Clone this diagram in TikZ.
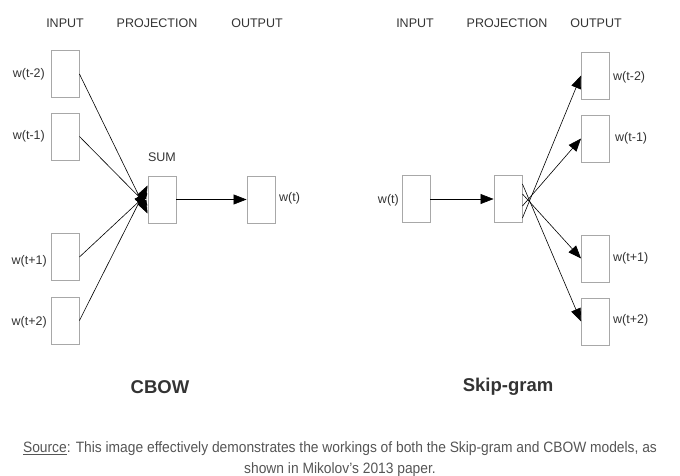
\documentclass[tikz,border=0pt]{standalone}
\usepackage{fontspec}
\setmainfont{Liberation Sans}
\newfontfamily\capfont[FakeStretch=0.92]{Liberation Sans}
\usetikzlibrary{arrows.meta}
\definecolor{boxgray}{HTML}{A8A8A8}
\definecolor{txt}{HTML}{333333}
\definecolor{captxt}{HTML}{555555}
\tikzset{
  wbox/.style={draw=boxgray,line width=0.9pt,minimum width=28pt,minimum height=47pt,inner sep=0pt},
  hdr/.style={font=\fontsize{12.5}{14}\selectfont,text=txt,inner sep=0pt},
  wlab/.style={font=\fontsize{12.5}{14}\selectfont,text=txt,inner sep=0pt},
  ttl/.style={font=\fontsize{18.5}{20}\selectfont\bfseries,text=txt,inner sep=0pt},
  arr/.style={-{Triangle[length=13pt,width=10pt]},line width=0.6pt,black},
  captext/.style={font=\capfont\fontsize{15}{20}\selectfont,text=captxt,inner sep=0pt,anchor=base},
}
\begin{document}
\begin{tikzpicture}[x=1pt,y=-1pt]
\useasboundingbox (0,0) rectangle (680,476);
% CBOW headers
\node[hdr] (hi1) at (65,23) {INPUT};
\node[hdr] (hp1) at (157,23) {PROJECTION};
\node[hdr] (ho1) at (257,23) {OUTPUT};
% CBOW boxes
\node[wbox] (c1) at (65,74) {};
\node[wbox] (c2) at (65,136.5) {};
\node[wbox] (c3) at (65,257) {};
\node[wbox] (c4) at (65,320.5) {};
\node[wbox] (sum) at (162,199.5) {};
\node[wbox] (cout) at (261,199.5) {};
\node[wlab,anchor=east] (lc1) at (45,74) {w(t-2)};
\node[wlab,anchor=east] (lc2) at (45,136.5) {w(t-1)};
\node[wlab,anchor=east] (lc3) at (47,261) {w(t+1)};
\node[wlab,anchor=east] (lc4) at (47,322) {w(t+2)};
\node[wlab] (lsum) at (162,157) {SUM};
\node[wlab,anchor=west] (lcout) at (279,198) {w(t)};
\draw[arr] (c1.east) -- ([yshift=-14pt]sum.west);
\draw[arr] (c2.east) -- ([yshift=-6pt]sum.west);
\draw[arr] (c3.east) -- ([yshift=6pt]sum.west);
\draw[arr] (c4.east) -- ([yshift=14pt]sum.west);
\draw[arr] (sum.east) -- (cout.west);
\node[ttl] (tc) at (160,387) {CBOW};
% Skip-gram headers
\node[hdr] (hi2) at (415,23) {INPUT};
\node[hdr] (hp2) at (507,23) {PROJECTION};
\node[hdr] (ho2) at (596,23) {OUTPUT};
\node[wbox] (sin) at (416,199) {};
\node[wbox] (proj) at (508,199) {};
\node[wbox] (s1) at (595.5,75.5) {};
\node[wbox] (s2) at (595.5,138.5) {};
\node[wbox] (s3) at (595.5,258.5) {};
\node[wbox] (s4) at (595.5,321.5) {};
\node[wlab,anchor=east] (lsin) at (399,200) {w(t)};
\node[wlab,anchor=west] (ls1) at (613,77) {w(t-2)};
\node[wlab,anchor=west] (ls2) at (615,138.5) {w(t-1)};
\node[wlab,anchor=west] (ls3) at (613,258.5) {w(t+1)};
\node[wlab,anchor=west] (ls4) at (613,320.5) {w(t+2)};
\draw[arr] (sin.east) -- (proj.west);
\draw[arr] ([yshift=-19pt]proj.east) -- (s1.west);
\draw[arr] ([yshift=-7pt]proj.east) -- (s2.west);
\draw[arr] ([yshift=5pt]proj.east) -- (s3.west);
\draw[arr] ([yshift=15pt]proj.east) -- (s4.west);
\node[ttl] (ts) at (508,387) {Skip-gram};
% caption
\node[captext] (cap1) at (340,452.3)
  {\underline{Source}: This image effectively demonstrates the workings of both the Skip-gram and CBOW models, as};
\node[captext] (cap2) at (340,473) {shown in Mikolov’s 2013 paper.};
\end{tikzpicture}
\end{document}
